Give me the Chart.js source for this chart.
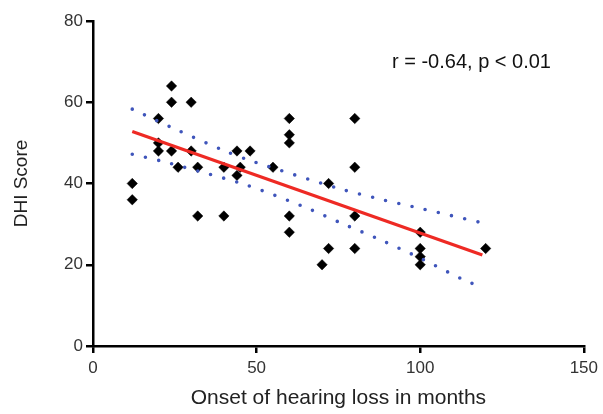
<!DOCTYPE html>
<html>
<head>
<meta charset="utf-8">
<script src="https://cdn.jsdelivr.net/npm/chart.js@4/dist/chart.umd.min.js"></script>
<style>
  html, body { margin: 0; padding: 0; background: #fff; }
  #wrap { width: 603px; height: 414px; }
</style>
</head>
<body>
<div id="wrap"><canvas id="chartDhi"></canvas></div>
<script>
// ---- Data ----
const onsetMonths = [12, 12, 24, 24, 30, 20, 20, 20, 24, 26, 30, 32, 32, 40, 40, 44, 48, 45, 44,
                     60, 60, 60, 80, 55, 80, 72, 60, 60, 80, 72, 80, 70, 100, 100, 100, 100, 120];
const dhiScores   = [40, 36, 64, 60, 60, 56, 50, 48, 48, 44, 48, 44, 32, 32, 44, 48, 48, 44, 42,
                     56, 52, 50, 56, 44, 44, 40, 32, 28, 32, 24, 24, 20, 28, 24, 22, 20, 24];

// regression line
const fitX = [12, 119];
const fitY = [52.8, 22.4];

// 95% confidence band
const upperX = [12, 24, 40.6, 49, 75, 88, 101, 119];
const upperY = [58.3, 53.8, 47.9, 45.4, 38.8, 36.1, 33.7, 30.3];
const lowerX = [12, 20.5, 33.7, 46.6, 63.8, 76, 88.5, 100.6, 113, 119];
const lowerY = [47.2, 45.6, 42.7, 39.7, 34.5, 30.2, 25.9, 21.4, 16.4, 14.4];

const statsText = 'r = -0.64, p < 0.01';

function pairs(xs, ys) {
  return xs.map(function (x, i) { return { x: x, y: ys[i] }; });
}

const FONT = "'Liberation Sans', Arial, sans-serif";

// ---- Annotation text ----
const statsPlugin = {
  id: 'statsText',
  afterDraw: function (chart) {
    const ctx = chart.ctx;
    ctx.save();
    ctx.font = '20px ' + FONT;
    ctx.fillStyle = '#111';
    ctx.textBaseline = 'alphabetic';
    ctx.fillText(statsText, 392, 68);
    ctx.restore();
  }
};

const dottedBand = {
  type: 'line',
  borderColor: '#3f55bb',
  borderWidth: 3.6,
  borderDash: [0, 13.5],
  borderCapStyle: 'round',
  pointRadius: 0,
  fill: false,
  tension: 0.3
};

new Chart(document.getElementById('chartDhi').getContext('2d'), {
  type: 'scatter',
  data: {
    datasets: [
      Object.assign({ label: 'Upper 95% CI', data: pairs(upperX, upperY) }, dottedBand),
      Object.assign({ label: 'Lower 95% CI', data: pairs(lowerX, lowerY) }, dottedBand),
      {
        type: 'line',
        label: 'Fit',
        data: pairs(fitX, fitY),
        borderColor: '#ee2a24',
        borderWidth: 3.2,
        pointRadius: 0,
        fill: false
      },
      {
        label: 'Patients',
        data: pairs(onsetMonths, dhiScores),
        pointStyle: 'rectRot',
        pointRadius: 5.2,
        backgroundColor: '#000',
        borderColor: '#000',
        borderWidth: 0.5
      }
    ]
  },
  options: {
    responsive: true,
    maintainAspectRatio: false,
    animation: false,
    layout: { padding: { top: 21, right: 19, bottom: 0, left: 0 } },
    plugins: {
      legend: { display: false },
      tooltip: { enabled: false }
    },
    scales: {
      x: {
        type: 'linear',
        min: 0, max: 150,
        afterFit: function (s) { s.height = 68; },
        ticks: { stepSize: 50, color: '#333', font: { family: FONT, size: 17 }, padding: 5 },
        grid: { drawOnChartArea: false, color: '#000', lineWidth: 2.5, tickLength: 7 },
        border: { color: '#000', width: 2.5 },
        title: { display: true, text: 'Onset of hearing loss in months', color: '#222',
                 font: { family: FONT, size: 21 }, padding: { top: 2, bottom: 3 } }
      },
      y: {
        min: 0, max: 80,
        afterFit: function (s) { s.width = 93; },
        ticks: { stepSize: 20, color: '#333', font: { family: FONT, size: 17 }, padding: 3 },
        grid: { drawOnChartArea: false, color: '#000', lineWidth: 2.5, tickLength: 7 },
        border: { color: '#000', width: 2.5 },
        title: { display: true, text: 'DHI Score', color: '#222',
                 font: { family: FONT, size: 19 }, padding: { top: 10 } }
      }
    }
  },
  plugins: [statsPlugin]
});
</script>
</body>
</html>
